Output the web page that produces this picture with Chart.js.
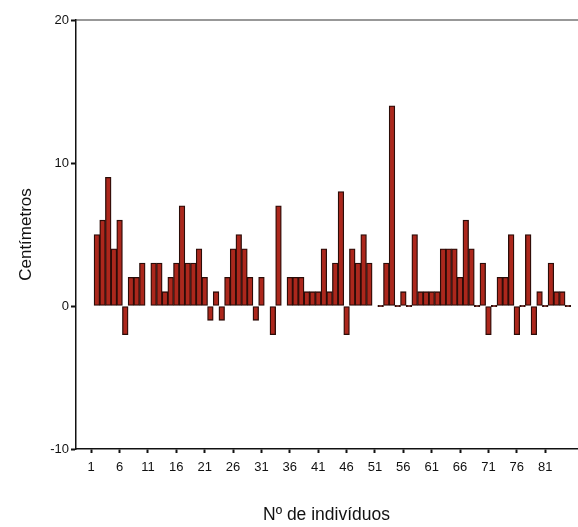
<!DOCTYPE html>
<html>
<head>
<meta charset="utf-8">
<script src="https://cdn.jsdelivr.net/npm/chart.js@4"></script>
<style>
  html, body { margin: 0; padding: 0; background: #fff; }
</style>
</head>
<body>
<canvas id="chart" width="578" height="527"></canvas>
<script>
// individual number for each bar
const individuos = [
   2,  3,  4,  5,  6,  7,  8,  9, 10, 11,
  12, 13, 14, 15, 16, 17, 18, 19, 20, 21,
  22, 23, 24, 25, 26, 27, 28, 29, 30, 31,
  32, 33, 34, 35, 36, 37, 38, 39, 40, 41,
  42, 43, 44, 45, 46, 47, 48, 49, 50, 51,
  52, 53, 54, 55, 56, 57, 58, 59, 60, 61,
  62, 63, 64, 65, 66, 67, 68, 69, 70, 71,
  72, 73, 74, 75, 76, 77, 78, 79, 80, 81,
  82, 83, 84, 85
];

// centimetres per individual (null = no bar)
const centimetros = [
   5,  6,  9,  4,  6, -2,  2,  2,  3, null,
   3,  3,  1,  2,  3,  7,  3,  3,  4,  2,
  -1,  1, -1,  2,  4,  5,  4,  2, -1,  2,
  null, -2, 7, null, 2,  2,  2,  1,  1,  1,
   4,  1,  3,  8, -2,  4,  3,  5,  3, null,
   0,  3, 14,  0,  1,  0,  5,  1,  1,  1,
   1,  4,  4,  4,  2,  6,  4,  0,  3, -2,
   0,  2,  2,  5, -2,  0,  5, -2,  1,  0,
   3,  1,  1,  0
];

const xTicks = [1, 6, 11, 16, 21, 26, 31, 36, 41, 46, 51, 56, 61, 66, 71, 76, 81];
const yTicks = [-10, 0, 10, 20];

const topLine = {
  id: 'topLine',
  afterDraw(chart) {
    const { ctx, chartArea } = chart;
    ctx.save();
    ctx.strokeStyle = '#333';
    ctx.lineWidth = 1.2;
    ctx.beginPath();
    ctx.moveTo(chartArea.left, chartArea.top);
    ctx.lineTo(chartArea.right + 2, chartArea.top);
    ctx.stroke();
    ctx.restore();
  }
};

const font = { family: '"Liberation Sans", Arial, sans-serif', size: 13 };

new Chart(document.getElementById('chart').getContext('2d'), {
  type: 'bar',
  data: {
    datasets: [{
      data: individuos.map((n, i) => ({ x: n, y: centimetros[i] })),
      backgroundColor: '#ac271c',
      borderColor: '#2b0c08',
      borderWidth: 1.3,
      borderSkipped: false,
      minBarLength: 1.5,
      barPercentage: 1,
      categoryPercentage: 1
    }]
  },
  options: {
    responsive: false,
    animation: false,
    layout: { padding: { top: 20, right: 1, left: 0, bottom: 0 } },
    plugins: { legend: { display: false }, tooltip: { enabled: false } },
    scales: {
      x: {
        type: 'linear',
        offset: false,
        min: -1.68,
        max: 86.6,
        afterBuildTicks: s => { s.ticks = xTicks.map(v => ({ value: v })); },
        afterFit: s => { s.height = 78; },
        grid: { display: true, offset: false, drawOnChartArea: false, tickLength: 4, tickWidth: 2, color: '#111' },
        border: { display: true, color: '#111', width: 1.5 },
        ticks: { font: font, color: '#111', padding: 7, maxRotation: 0, autoSkip: false },
        title: {
          display: true,
          text: 'Nº de indivíduos',
          font: { family: font.family, size: 17.5 },
          color: '#111',
          padding: { top: 0, bottom: 1 }
        }
      },
      y: {
        min: -10,
        max: 20,
        afterBuildTicks: s => { s.ticks = yTicks.map(v => ({ value: v })); },
        afterFit: s => { s.width = 76; },
        grid: { display: true, drawOnChartArea: false, tickLength: 5, tickWidth: 2, color: '#111' },
        border: { display: true, color: '#111', width: 1.5 },
        ticks: { font: font, color: '#111', padding: 2 },
        title: {
          display: true,
          text: 'Centímetros',
          font: { family: font.family, size: 17 },
          color: '#111',
          padding: { top: 16, bottom: 0 }
        }
      }
    }
  },
  plugins: [topLine]
});
</script>
</body>
</html>
